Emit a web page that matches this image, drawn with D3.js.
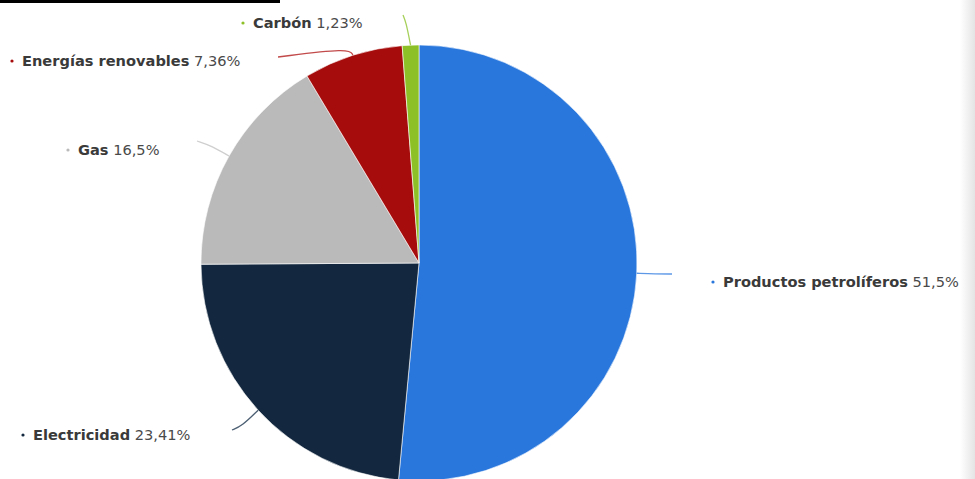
<!DOCTYPE html>
<html><head><meta charset="utf-8">
<script src="https://cdn.jsdelivr.net/npm/d3@7"></script>
<style>body{margin:0;background:#fff}svg{display:block}</style>
</head><body>
<svg id="c" width="975" height="479"></svg>
<script>
const categories = ["Productos petrolíferos", "Electricidad", "Gas", "Energías renovables", "Carbón"];
const values = [51.5, 23.41, 16.5, 7.36, 1.23];
const colors = ["#2977dd", "#13283e", "#bababa", "#a60c0c", "#8dc026"];
const connectorColors = ["#5d98e6", "#4c5f73", "#cfcfcf", "#c24a4a", "#a6d05a"];

const W = 975, H = 479;
const cx = 419, cy = 263, R = 218;
const svg = d3.select("#c");

svg.append("rect").attr("x", 0).attr("y", 0).attr("width", 280).attr("height", 3).attr("fill", "#000");

const defs = svg.append("defs");
const g1 = defs.append("linearGradient").attr("id", "shade").attr("x1", "0").attr("x2", "1");
g1.append("stop").attr("offset", "0").attr("stop-color", "#fff");
g1.append("stop").attr("offset", "1").attr("stop-color", "#e4e4e4");
svg.append("rect").attr("x", 960).attr("y", 0).attr("width", 15).attr("height", H).attr("fill", "url(#shade)");

const data = categories.map((c, i) => ({name: c, value: values[i], color: colors[i], cc: connectorColors[i]}));
const pie = d3.pie().sort(null).value(d => d.value);
const arcs = pie(data);
const arc = d3.arc().innerRadius(0).outerRadius(R);

const g = svg.append("g").attr("transform", `translate(${cx},${cy})`);
g.selectAll("path.slice").data(arcs).join("path")
  .attr("class", "slice")
  .attr("d", arc)
  .attr("fill", d => d.data.color)
  .attr("stroke", "#fff").attr("stroke-width", 0.6);

const labelPos = [
  {x: 713, y: 282, via: [[655, 274]], end: [672, 274]},
  {x: 23, y: 435, via: [[242, 426]], end: [232, 430]},
  {x: 68, y: 150, via: [[212, 146]], end: [197, 141]},
  {x: 12, y: 61, via: [[350, 48]], end: [278, 57]},
  {x: 243, y: 23, via: [[406, 22]], end: [403, 15]}
];

const fmt = v => String(v).replace(".", ",") + "%";
const line = d3.line().curve(d3.curveBasis);

arcs.forEach((a, i) => {
  const mid = (a.startAngle + a.endAngle) / 2;
  const sx = cx + R * Math.sin(mid), sy = cy - R * Math.cos(mid);
  const lp = labelPos[i];
  const pts = [[sx, sy], ...lp.via, lp.end];
  svg.append("path").attr("d", line(pts)).attr("fill", "none")
    .attr("stroke", a.data.cc).attr("stroke-width", 1.3);
  svg.append("circle").attr("cx", lp.x).attr("cy", lp.y).attr("r", 1.6).attr("fill", a.data.color);
  const t = svg.append("text").attr("x", lp.x + 10).attr("y", lp.y + 5)
    .attr("font-family", "'DejaVu Sans', sans-serif")
    .attr("font-size", 14.6).attr("fill", "#333");
  t.append("tspan").attr("font-weight", "bold").attr("fill", "#3a3a3a").text(a.data.name);
  t.append("tspan").attr("fill", "#4a4a4a").text(" " + fmt(a.data.value));
});
</script>
</body></html>
